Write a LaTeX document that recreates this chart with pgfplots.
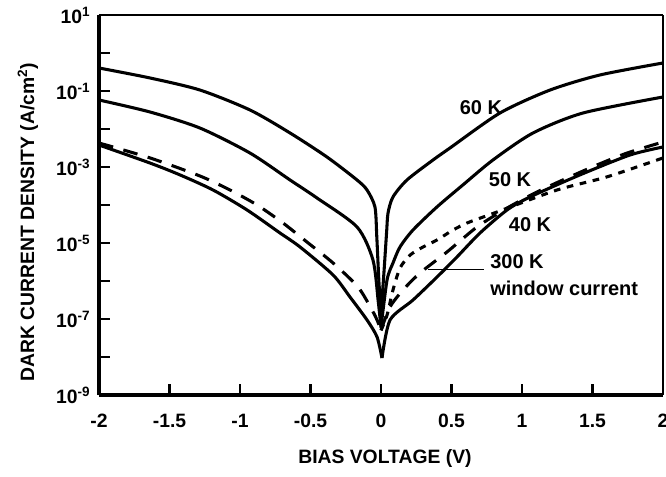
\documentclass[border=0pt]{standalone}
\usepackage{pgfplots}
\pgfplotsset{compat=1.18}
\usepackage{fontspec}
\setmainfont{Liberation Sans}

\begin{document}
\begin{tikzpicture}
  % page = 666x477 px at 0.75pt/px, axis box at px (99..663, 15..395)
  \useasboundingbox (-74.25pt,-61.5pt) rectangle (425.25pt,296.25pt);
  \begin{axis}[
    at={(0,0)}, anchor=south west,
    scale only axis, width=423pt, height=285pt,
    ymode=log,
    xmin=-2, xmax=2, ymin=1e-9, ymax=10,
    clip=false,
    axis lines*=left,
    axis line style={line width=2.6pt},
    tick align=inside,
    major tick length=8pt,
    tick style={line width=1.8pt, black},
    yminorticks=false, xminorticks=false,
    xtick={-2,-1.5,-1,-0.5,0,0.5,1,1.5,2},
    xticklabels={-2,-1.5,-1,-0.5,0,0.5,1,1.5,2},
    ytick={1e-9,1e-8,1e-7,1e-6,1e-5,1e-4,1e-3,1e-2,1e-1,1,10},
    yticklabels={10\textsuperscript{-9},,10\textsuperscript{-7},,10\textsuperscript{-5},,10\textsuperscript{-3},,10\textsuperscript{-1},,10\textsuperscript{1}},
    tick label style={font=\fontsize{14.5}{15}\selectfont\bfseries},
    xticklabel style={yshift=-11pt},
    yticklabel style={xshift=-3pt},
    xlabel={BIAS VOLTAGE (V)},
    ylabel={DARK CURRENT DENSITY (A/cm\textsuperscript{2})},
    label style={font=\fontsize{14.5}{15}\selectfont\bfseries},
    xlabel style={at={(axis description cs:0.507,-0.168)}, anchor=center},
    ylabel style={at={(axis description cs:-0.126,0.455)}, anchor=center},
    curve/.style={black, line width=2.3pt, line join=round, smooth, tension=0.45},
    longdash/.style={curve, dash pattern=on 11pt off 8pt},
    shortdash/.style={curve, dash pattern=on 5pt off 5pt},
  ]
    % 60 K
    \addplot[curve] coordinates {
      (-2.000,0.403) (-1.638,0.22) (-1.284,0.106) (-0.929,0.0316)
      (-0.645,7.85e-3) (-0.383,1.83e-3) (-0.170,4.55e-4) (-0.099,2.48e-4)
      (-0.043,8.9e-5) (-0.030,1.5e-5) (-0.015,1e-6) (0,1.5e-7)
    };
    \addplot[curve] coordinates {
      (0,1.5e-7) (0.020,1.5e-6) (0.040,2e-5) (0.050,6.2e-5) (0.085,1.63e-4)
      (0.184,4.55e-4) (0.369,1.53e-3) (0.489,3.16e-3) (0.844,0.0264)
      (1.199,0.106) (1.553,0.264) (2.000,0.546)
    };
    % 50 K
    \addplot[curve] coordinates {
      (-2.000,0.058) (-1.638,0.028) (-1.284,0.0106) (-0.929,2.33e-3)
      (-0.645,4.55e-4) (-0.454,1.53e-4) (-0.170,2.64e-5) (-0.057,3.57e-6)
      (-0.020,3e-7) (0,6e-8)
    };
    \addplot[curve] coordinates {
      (0,6e-8) (0.043,1.07e-6) (0.085,2.98e-6)
      (0.135,7.9e-6) (0.227,2.2e-5) (0.397,8.9e-5) (0.582,3.4e-4)
      (0.794,1.53e-3) (1.078,7.85e-3) (1.433,0.0264) (2.000,0.0695)
    };
    % 40 K
    \addplot[curve] coordinates {
      (-2.000,3.79e-3) (-1.638,1.27e-3) (-1.426,6.2e-4) (-1.191,2.48e-4)
      (-0.950,7.4e-5) (-0.716,1.83e-5) (-0.574,7.85e-6) (-0.340,1.44e-6)
      (-0.220,3.8e-7) (-0.099,9.4e-8) (-0.028,3.36e-8) (0.007,9.4e-9)
    };
    \addplot[curve] coordinates {
      (0.007,9.4e-9) (0.064,9.4e-8) (0.227,3.16e-7) (0.397,1.27e-6) (0.539,4.3e-6)
      (0.702,1.83e-5) (0.894,7.4e-5) (1.057,1.63e-4) (1.411,6.2e-4)
      (1.766,2.07e-3) (2.000,3.36e-3)
    };
    % 300 K window current
    \addplot[longdash] coordinates {
      (-2.000,4.28e-3) (-1.638,1.73e-3) (-1.284,5.8e-4) (-1.071,2.48e-4)
      (-0.879,1e-4) (-0.695,3.36e-5) (-0.525,1.06e-5) (-0.340,2.98e-6)
      (-0.163,6.95e-7) (-0.064,1.73e-7) (-0.028,9.4e-8) (0,5.1e-8)
    };
    \addplot[longdash] coordinates {
      (0,5.1e-8) (0.064,2.07e-7) (0.156,5.8e-7) (0.277,1.63e-6) (0.468,5.8e-6)
      (0.681,2.64e-5) (0.894,8.3e-5) (1.106,2.2e-4) (1.319,5.1e-4)
      (1.532,1.13e-3) (1.745,2.33e-3) (2.000,4.55e-3)
    };
    % short-dashed curve
    \addplot[shortdash] coordinates {
      (0,5e-8) (0.043,1.27e-7) (0.085,5.8e-7) (0.135,2.2e-6)
      (0.206,4.8e-6) (0.298,7.85e-6) (0.397,1.2e-5) (0.511,2.2e-5)
      (0.610,3.36e-5) (0.723,4.8e-5) (0.823,6.55e-5) (1.248,2.48e-4)
      (1.603,5.5e-4) (2.000,1.73e-3)
    };

    % top and right frame
    \draw[line width=2.2pt] (rel axis cs:0,1) -- (rel axis cs:1,1);
    \draw[line width=0.8pt] (rel axis cs:1,0) -- (rel axis cs:1,1);

    \begin{scope}[every node/.style={font=\fontsize{15}{16}\selectfont\bfseries, inner sep=0pt}]
      \node at (axis cs:0.709,0.0357) {60 K};
      \node at (axis cs:0.915,4.55e-4) {50 K};
      \node at (axis cs:1.057,2.98e-5) {40 K};
      \node[anchor=west] at (axis cs:0.773,3.16e-6) {300 K};
      \node[anchor=west] at (axis cs:0.773,6.55e-7) {window current};
    \end{scope}
    \draw[line width=1.2pt] (axis cs:0.333,2e-6) -- (axis cs:0.730,2e-6);
  \end{axis}
\end{tikzpicture}
\end{document}
